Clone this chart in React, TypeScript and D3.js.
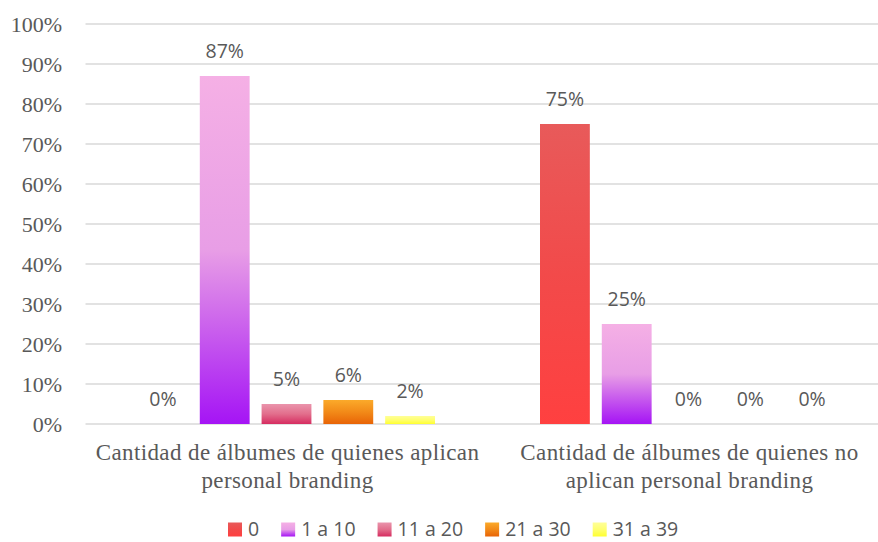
import React from "react";
import * as d3 from "d3";

const categories = [
  ["Cantidad de álbumes de quienes aplican", "personal branding"],
  ["Cantidad de álbumes de quienes no", "aplican personal branding"],
];
const seriesNames = ["0", "1 a 10", "11 a 20", "21 a 30", "31 a 39"];
const values0 = [0, 75];
const values1 = [87, 25];
const values2 = [5, 0];
const values3 = [6, 0];
const values4 = [2, 0];
const seriesValues = [values0, values1, values2, values3, values4];
const yTicks = [0, 10, 20, 30, 40, 50, 60, 70, 80, 90, 100];

const gradients = [
  { top: "#E85A5A", mid: "#F24A4A", bottom: "#FF4040" },
  { top: "#F5B0E5", mid: "#E89EE6", bottom: "#A514F5" },
  { top: "#EA94AC", mid: "#E26E8C", bottom: "#D62C60" },
  { top: "#FBAA2A", mid: "#F28A18", bottom: "#E86406" },
  { top: "#FFFF98", mid: "#FFFF70", bottom: "#FFFF30" },
];

const W = 878;
const H = 542;
const left = 85.5;
const bandW = 402;
const top = 24;
const bottom = 424;

const measure = (() => {
  let ctx: CanvasRenderingContext2D | null = null;
  return (t: string, font: string) => {
    if (!ctx) ctx = document.createElement("canvas").getContext("2d");
    if (!ctx) return t.length * 10;
    ctx.font = font;
    return ctx.measureText(t).width;
  };
})();

export default function App() {
  const x0 = d3
    .scaleBand<number>()
    .domain(categories.map((_, i) => i))
    .range([left, left + bandW * categories.length])
    .paddingInner(0)
    .paddingOuter(0);
  const groupW = 297;
  const x1 = d3
    .scaleBand<number>()
    .domain(seriesNames.map((_, i) => i))
    .range([0, groupW])
    .paddingInner(12 / 62)
    .paddingOuter(0);
  const y = d3.scaleLinear().domain([0, 100]).range([bottom, top]);

  const labelFont = "'Open Sans', 'Liberation Sans', sans-serif";
  const serif = "'Liberation Serif', 'Times New Roman', serif";
  const textGray = "#595959";

  // legend layout
  const legFontSize = 19.5;
  const sq = 14;
  const gapSqText = 6;
  const gapItems = 22;
  const widths = seriesNames.map(
    (s) => sq + gapSqText + measure(s, `${legFontSize}px 'Open Sans'`)
  );
  let cursor = 228;
  const legendX = widths.map((w) => {
    const v = cursor;
    cursor += w + gapItems;
    return v;
  });

  return (
    <svg width={W} height={H} style={{ position: "absolute", left: 0, top: 0, background: "#fff" }}>
      <defs>
        {gradients.map((g, i) => (
          <linearGradient key={i} id={`g${i}`} x1="0" y1="0" x2="0" y2="1">
            <stop offset="0" stopColor={g.top} />
            <stop offset="0.5" stopColor={g.mid} />
            <stop offset="1" stopColor={g.bottom} />
          </linearGradient>
        ))}
      </defs>
      {yTicks.map((t) => (
        <g key={t}>
          <line x1={left} x2={W} y1={y(t)} y2={y(t)} stroke="#D9D9D9" strokeWidth={1.3} />
          <text
            x={62}
            y={y(t) + 8}
            textAnchor="end"
            fontFamily={serif}
            fontSize={22}
            fill={textGray}
          >
            {t}%
          </text>
        </g>
      ))}
      {categories.map((cat, ci) => {
        const gx = (x0(ci) as number) + (bandW - groupW) / 2;
        return (
          <g key={ci}>
            {seriesValues.map((vals, si) => {
              const v = vals[ci];
              const bx = gx + (x1(si) as number);
              const bw = x1.bandwidth();
              return (
                <g key={si}>
                  {v > 0 && (
                    <rect
                      x={bx}
                      y={y(v)}
                      width={bw}
                      height={y(0) - y(v)}
                      fill={`url(#g${si})`}
                    />
                  )}
                  <text
                    x={bx + bw / 2}
                    y={y(v) - 18}
                    textAnchor="middle"
                    fontFamily={labelFont}
                    fontSize={19.5}
                    fill={textGray}
                  >
                    {v}%
                  </text>
                </g>
              );
            })}
            {cat.map((line, li) => (
              <text
                key={li}
                x={(x0(ci) as number) + bandW / 2 + 1}
                y={460 + li * 28}
                textAnchor="middle"
                fontFamily={serif}
                fontSize={23}
                letterSpacing={0.4}
                fill={textGray}
              >
                {line}
              </text>
            ))}
          </g>
        );
      })}
      {seriesNames.map((s, i) => (
        <g key={s}>
          <rect x={legendX[i]} y={522.5} width={sq} height={sq} fill={`url(#g${i})`} />
          <text
            x={legendX[i] + sq + gapSqText}
            y={536}
            fontFamily={labelFont}
            fontSize={legFontSize}
            fill={textGray}
          >
            {s}
          </text>
        </g>
      ))}
    </svg>
  );
}
